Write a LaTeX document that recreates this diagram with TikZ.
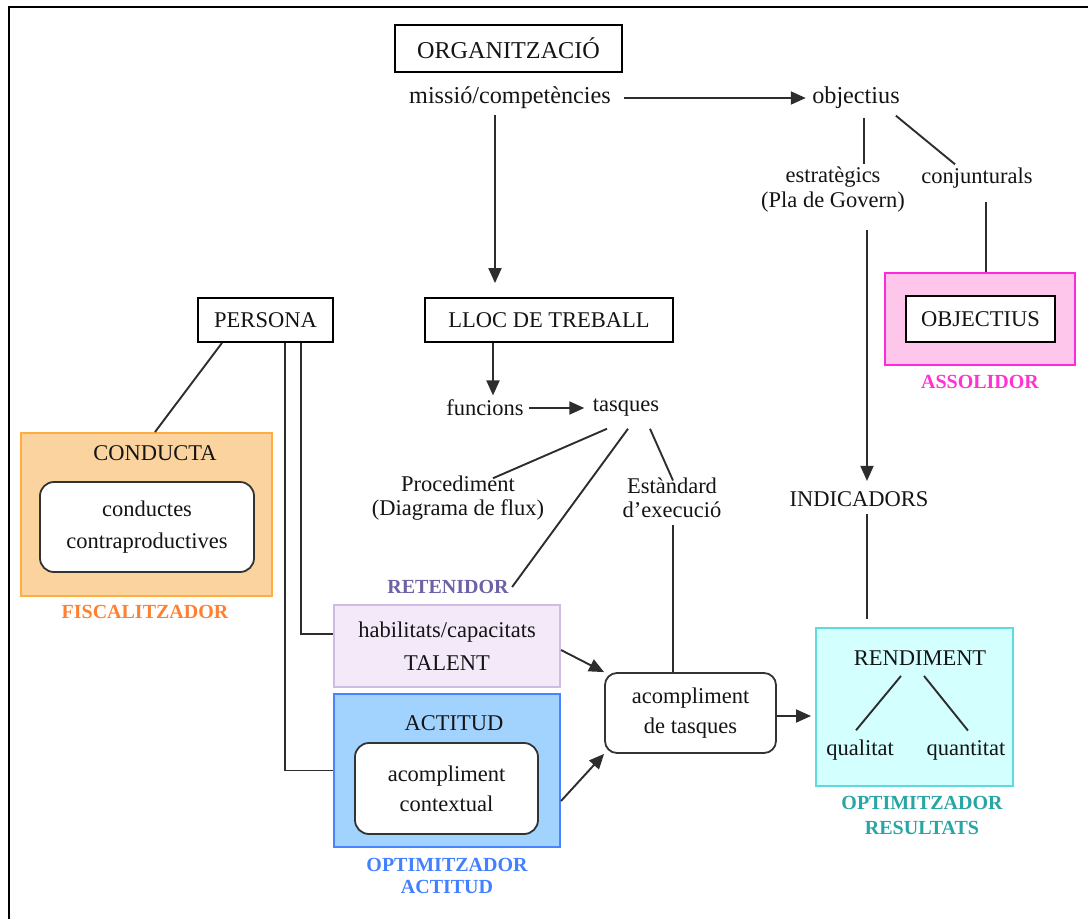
\documentclass[tikz,border=0pt]{standalone}
\usepackage{fontspec}
\setmainfont{Liberation Serif}
\usetikzlibrary{arrows.meta}

\definecolor{ink}{RGB}{20,20,20}
\definecolor{wire}{RGB}{45,45,45}
\definecolor{condfill}{RGB}{251,211,158}
\definecolor{conddraw}{RGB}{255,172,64}
\definecolor{fiscol}{RGB}{255,128,48}
\definecolor{talfill}{RGB}{243,233,248}
\definecolor{taldraw}{RGB}{206,188,226}
\definecolor{retcol}{RGB}{108,98,165}
\definecolor{actfill}{RGB}{162,211,255}
\definecolor{actdraw}{RGB}{72,132,255}
\definecolor{optcol}{RGB}{66,128,255}
\definecolor{rendfill}{RGB}{212,255,255}
\definecolor{renddraw}{RGB}{92,220,220}
\definecolor{rescol}{RGB}{40,165,165}
\definecolor{objfill}{RGB}{255,198,236}
\definecolor{objdraw}{RGB}{255,40,220}
\definecolor{assolcol}{RGB}{255,50,210}

\begin{document}
\begin{tikzpicture}[x=1pt,y=-1pt,
  txt/.style={font=\fontsize{22.5}{25}\selectfont, text=ink, align=center},
  bigtxt/.style={font=\fontsize{24.2}{28}\selectfont, text=ink, align=center},
  role/.style={font=\bfseries\fontsize{20}{22}\selectfont, align=center},
  plainbox/.style={draw=black, line width=1.8pt, fill=white, inner sep=0pt},
  softbox/.style={draw=black!80, line width=1.8pt, fill=white, inner sep=0pt, rounded corners=14pt},
  zone/.style={line width=2pt, inner sep=0pt},
  ln/.style={draw=wire, line width=1.9pt},
  arr/.style={ln, -{Triangle[length=15pt,width=13pt]}},
  frameline/.style={draw=black, line width=2.6pt}
]
\useasboundingbox (0,0) rectangle (1088,919);

% page frame
\draw[frameline] (9,919) -- (9,7) -- (1088,7);

% organisation branch
\node[plainbox, bigtxt, minimum width=227pt, minimum height=47pt] (org) at (508.5,48.5) {ORGANITZACIÓ};
\node[bigtxt] (mission) at (510,98) {missió/competències};
\node[bigtxt] (obj) at (856,98) {objectius};
\node[txt] (estr) at (833,190) {estratègics\\(Pla de Govern)};
\node[txt] (conj) at (977,178) {conjunturals};

% objectives zone
\node[zone, draw=objdraw, fill=objfill, minimum width=190pt, minimum height=92pt] (objbox) at (980,319) {};
\node[plainbox, txt, minimum width=149pt, minimum height=46pt] (objin) at (980.5,319) {OBJECTIUS};
\node[role, text=assolcol] (assol) at (980,382) {ASSOLIDOR};

\node[txt] (indic) at (859,499) {INDICADORS};

% results zone
\node[zone, draw=renddraw, fill=rendfill, minimum width=197pt, minimum height=158pt] (rend) at (914.5,707) {};
\node[txt] (rendt) at (920,658) {RENDIMENT};
\node[txt] (qual) at (860,750) {qualitat};
\node[txt] (quant) at (966,750) {quantitat};
\node[role, text=rescol, font=\bfseries\fontsize{20}{25}\selectfont] (optres) at (922,815.5) {OPTIMITZADOR\\RESULTATS};

% job branch
\node[plainbox, txt, minimum width=248pt, minimum height=44pt] (lloc) at (549,320) {LLOC DE TREBALL};
\node[txt] (func) at (485,408) {funcions};
\node[txt] (tasq) at (626,408) {tasques};
\node[txt, font=\fontsize{22.5}{24}\selectfont] (proc) at (458,498) {Procediment\\(Diagrama de flux)};
\node[txt, font=\fontsize{22.5}{24}\selectfont] (estd) at (672,498) {Estàndard\\d'execució};
\node[role, text=retcol] (reten) at (448,587) {RETENIDOR};

% person branch
\node[plainbox, txt, minimum width=135pt, minimum height=44pt] (persona) at (265.5,320) {PERSONA};

\node[zone, draw=conddraw, fill=condfill, minimum width=251pt, minimum height=163pt] (condbox) at (146.5,514.5) {};
\node[txt] (condt) at (155,453) {CONDUCTA};
\node[softbox, txt, font=\fontsize{22.5}{32}\selectfont, minimum width=214pt, minimum height=90pt] (condin) at (147,527) {conductes\\contraproductives};
\node[role, text=fiscol] (fiscal) at (145,612) {FISCALITZADOR};

\node[zone, draw=taldraw, fill=talfill, txt, font=\fontsize{22.5}{33}\selectfont, minimum width=226pt, minimum height=82pt] (talent) at (447,646) {habilitats/capacitats\\TALENT};

\node[zone, draw=actdraw, fill=actfill, minimum width=226pt, minimum height=153pt] (actbox) at (447,770.5) {};
\node[txt] (actt) at (454,723) {ACTITUD};
\node[softbox, txt, font=\fontsize{22.5}{30}\selectfont, minimum width=183pt, minimum height=91pt] (actin) at (446.5,788.5) {acompliment\\contextual};
\node[role, text=optcol, font=\bfseries\fontsize{20}{22}\selectfont] (optact) at (447,876) {OPTIMITZADOR\\ACTITUD};

\node[softbox, txt, font=\fontsize{22.5}{30}\selectfont, rounded corners=12pt, minimum width=171pt, minimum height=80pt] (acomp) at (690.5,713) {acompliment\\de tasques};

% connectors: organisation
\draw[arr, shorten <=10pt, shorten >=3pt] (mission) -- (obj);
\draw[arr, shorten <=2pt, shorten >=14pt] ([xshift=-15pt]mission.south) -- ([xshift=-15pt]mission.south |- lloc.north);
\draw[ln, shorten <=5pt] ([xshift=8pt]obj.south) -- ([xshift=8pt]obj.south |- estr.north);
\draw[ln, shorten <=5pt] ([xshift=36pt]obj.south) -- ([xshift=-22pt]conj.north);
\draw[arr, shorten <=14pt, shorten >=7pt] ([xshift=34pt]estr.south) -- ([xshift=34pt]estr.south |- indic.north);
\draw[ln, shorten <=10pt] ([xshift=9pt]conj.south) -- ([xshift=9pt]conj.south |- objbox.north);
\draw[ln, shorten <=4pt, shorten >=8pt] ([xshift=8pt]indic.south) -- ([xshift=8pt]indic.south |- rend.north);
\draw[ln] ([xshift=-19pt,yshift=-7pt]rendt.south) -- ([xshift=-4pt,yshift=6pt]qual.north);
\draw[ln] ([xshift=4pt,yshift=-7pt]rendt.south) -- ([xshift=2pt,yshift=6pt]quant.north);

% connectors: job
\draw[arr, shorten >=1pt] ([xshift=-56pt]lloc.south) -- ([xshift=-56pt]lloc.south |- func.north);
\draw[arr, shorten <=2pt, shorten >=5pt] (func) -- (tasq);
\draw[ln] ([xshift=-19pt,yshift=-8.5pt]tasq.south) -- ([xshift=35pt,yshift=-6pt]proc.north);
\draw[ln] ([xshift=2pt,yshift=-8.5pt]tasq.south) -- (reten.east);
\draw[ln] ([xshift=24pt,yshift=-8.5pt]tasq.south) -- ([xshift=1pt,yshift=-6pt]estd.north);
\draw[ln, shorten <=4pt] ([xshift=1pt]estd.south) -- ([xshift=1pt]estd.south |- acomp.north);

% connectors: person
\draw[ln] ([xshift=-43.5pt]persona.south) -- ([xshift=8.5pt]condbox.north);
\draw[ln] ([xshift=35.5pt]persona.south) |- ([yshift=12pt]talent.west);
\draw[ln] ([xshift=19.5pt]persona.south) |- (actbox.west);

% connectors: into task performance and results
\draw[arr] ([yshift=-4pt]talent.east) -- (acomp.north west);
\draw[arr] ([yshift=-30.5pt]actbox.east) -- (acomp.south west);
\draw[arr, shorten >=4pt] ([yshift=-3pt]acomp.east) -- ([yshift=-3pt]acomp.east -| rend.west);
\end{tikzpicture}
\end{document}
